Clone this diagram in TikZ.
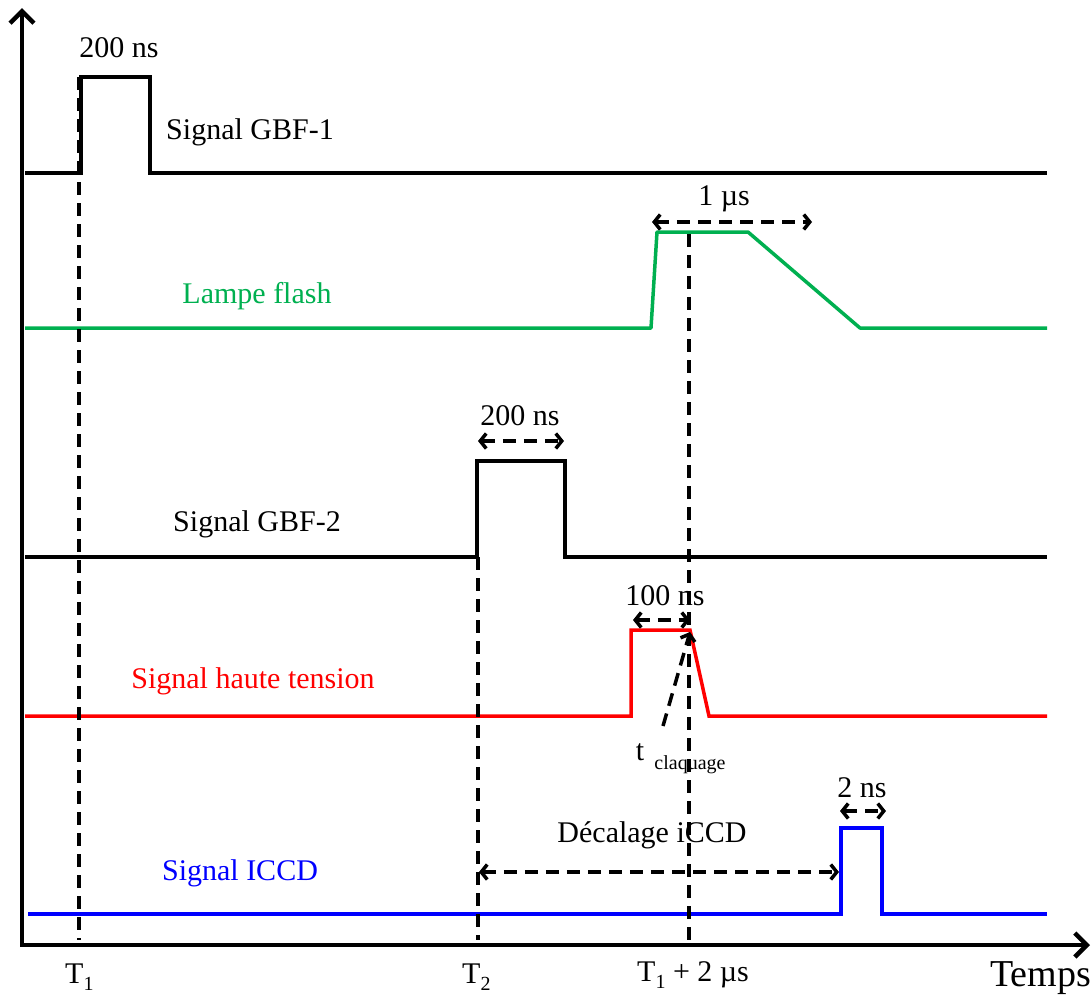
\documentclass[tikz,border=0pt]{standalone}
\usepackage{fontspec}
\setmainfont{Liberation Serif}
\usetikzlibrary{arrows.meta}
\definecolor{flashgreen}{RGB}{0,176,80}
\definecolor{hvred}{RGB}{255,0,0}
\definecolor{iccdblue}{RGB}{0,0,255}
\begin{document}
\begin{tikzpicture}[x=1pt,y=-1pt,
  sig/.style={line width=3.5pt,line join=miter},
  axis/.style={line width=4.5pt,-{Straight Barb[length=12pt,width=24pt,line width=4.5pt]}},
  dline/.style={line width=3.5pt,dash pattern=on 13pt off 8pt},
  dimarrow/.style={line width=3.5pt,dash pattern=on 13pt off 8pt,{Straight Barb[length=6pt,width=15pt,line width=3.5pt]}-{Straight Barb[length=6pt,width=15pt,line width=3.5pt]}},
  onearrow/.style={line width=3.5pt,dash pattern=on 13pt off 8pt,-{Straight Barb[length=6pt,width=15pt,line width=3.5pt]}},
  lbl/.style={font=\fontsize{30}{34}\selectfont,inner sep=0pt},
  sub/.style={font=\fontsize{20}{24}\selectfont,inner sep=0pt}
]
\useasboundingbox (0,0) rectangle (1092,994);
% axes
\coordinate (O) at (22,945);
\coordinate (Ytop) at (22,8);
\coordinate (Xend) at (1090,945);
\draw[axis] (O) -- (Ytop);
\draw[axis] (20,945) -- (Xend);

% Signal GBF-1
\coordinate (g1a) at (25,173); \coordinate (g1b) at (81,173); \coordinate (g1c) at (81,77);
\coordinate (g1d) at (150,77); \coordinate (g1e) at (150,173); \coordinate (g1f) at (1047,173);
\draw[sig] (g1a) -- (g1b) -- (g1c) -- (g1d) -- (g1e) -- (g1f);
\node[lbl] (g1w) at (119,48) {200 ns};
\node[lbl] (g1l) at (250,132) {Signal GBF-1};

% Lampe flash
\coordinate (lfa) at (25,328); \coordinate (lfb) at (651,328); \coordinate (lfc) at (657,232);
\coordinate (lfd) at (748,232); \coordinate (lfe) at (860,328); \coordinate (lff) at (1047,328);
\draw[sig,flashgreen,line join=round] (lfa) -- (lfb) -- (lfc) -- (lfd) -- (lfe) -- (lff);
\node[lbl,text=flashgreen] (lfl) at (257,296) {Lampe flash};
\coordinate (us1a) at (652,222); \coordinate (us1b) at (812,222);
\draw[dimarrow] (us1a) -- (us1b);
\node[lbl] (us1) at (724,199) {1 µs};

% Signal GBF-2
\coordinate (g2a) at (25,557); \coordinate (g2b) at (477,557); \coordinate (g2c) at (477,461);
\coordinate (g2d) at (565,461); \coordinate (g2e) at (565,557); \coordinate (g2f) at (1047,557);
\draw[sig] (g2a) -- (g2b) -- (g2c) -- (g2d) -- (g2e) -- (g2f);
\node[lbl] (g2l) at (257,524) {Signal GBF-2};
\coordinate (g2wa) at (478,441); \coordinate (g2wb) at (564,441);
\draw[dimarrow] (g2wa) -- (g2wb);
\node[lbl] (g2w) at (520,416) {200 ns};

% Signal haute tension
\coordinate (hta) at (25,716); \coordinate (htb) at (631,716); \coordinate (htc) at (631,630);
\coordinate (htd) at (690,630); \coordinate (hte) at (709,716); \coordinate (htf) at (1047,716);
\draw[sig,hvred] (hta) -- (htb) -- (htc) -- (htd) -- (hte) -- (htf);
\node[lbl,text=hvred] (htl) at (253,681) {Signal haute tension};
\coordinate (htwa) at (633,620); \coordinate (htwb) at (690,620);
\draw[dimarrow] (htwa) -- (htwb);
\node[lbl] (htw) at (665,596) {100 ns};
\coordinate (tcs) at (663,726); \coordinate (tce) at (690,632);
\draw[onearrow] (tcs) -- (tce);
\node[lbl] (tc) at (640,752) {t};
\node[sub] (tcsub) at (690,765) {claquage};

% Signal ICCD
\coordinate (ica) at (28,914); \coordinate (icb) at (841,914); \coordinate (icc) at (841,828);
\coordinate (icd) at (882,828); \coordinate (ice) at (882,914); \coordinate (icf) at (1047,914);
\draw[sig,iccdblue] (ica) -- (icb) -- (icc) -- (icd) -- (ice) -- (icf);
\node[lbl,text=iccdblue] (icl) at (240,873) {Signal ICCD};
\coordinate (icwa) at (840,811); \coordinate (icwb) at (886,811);
\draw[dimarrow] (icwa) -- (icwb);
\node[lbl] (icw) at (862,788) {2 ns};
\coordinate (deca) at (479,872); \coordinate (decb) at (839,872);
\draw[dimarrow] (deca) -- (decb);
\node[lbl] (dec) at (652,835) {Décalage iCCD};

% vertical dashed markers
\coordinate (t1top) at (79,77); \coordinate (t1bot) at (79,940);
\draw[dline] (t1top) -- (t1bot);
\coordinate (t2top) at (478,557); \coordinate (t2bot) at (478,940);
\draw[dline] (t2top) -- (t2bot);
\coordinate (t3top) at (689,234); \coordinate (t3bot) at (689,945);
\draw[dline] (t3top) -- (t3bot);

% time labels
\node[lbl,anchor=base west] (T1) at (65,983) {T\raisebox{-0.25em}{\fontsize{20}{24}\selectfont 1}};
\node[lbl,anchor=base west] (T2) at (462,983) {T\raisebox{-0.25em}{\fontsize{20}{24}\selectfont 2}};
\node[lbl,anchor=base west] (T3) at (637,981) {T\raisebox{-0.25em}{\fontsize{20}{24}\selectfont 1} + 2 µs};
\node[font=\fontsize{38}{42}\selectfont,inner sep=0pt,anchor=base east] (temps) at (1091,986) {Temps};
\end{tikzpicture}
\end{document}
